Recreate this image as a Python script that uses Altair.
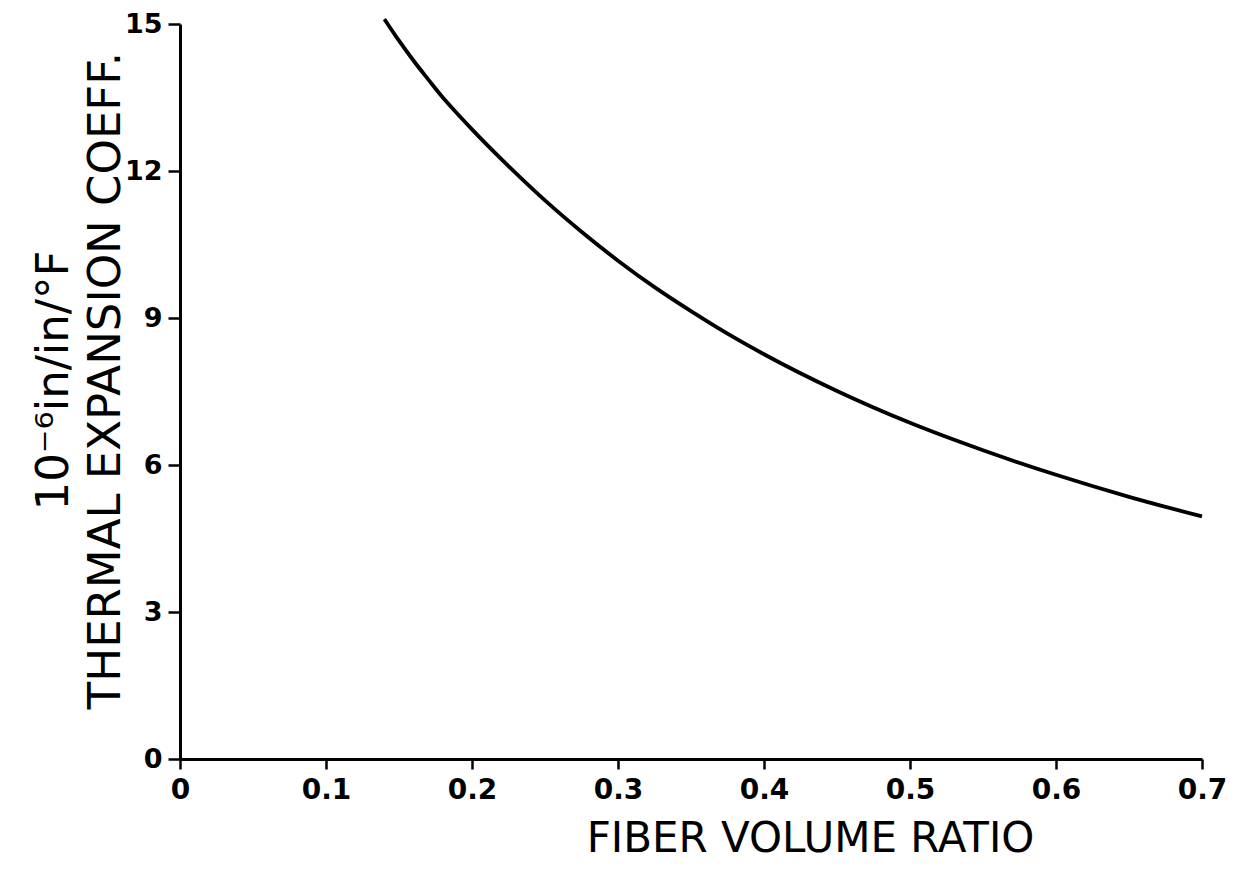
import altair as alt
import pandas as pd

# Fiber volume ratio vs thermal expansion coefficient (10^-6 in/in/°F)
fiber_ratio = [0.14, 0.15, 0.16, 0.17, 0.18, 0.19, 0.20, 0.225, 0.25, 0.275, 0.30,
               0.325, 0.35, 0.375, 0.40, 0.45, 0.50, 0.55, 0.60, 0.65, 0.70]
thermal_coeff = [15.1, 14.66, 14.25, 13.87, 13.5, 13.17, 12.85, 12.1, 11.4, 10.76, 10.17,
                 9.63, 9.14, 8.68, 8.26, 7.51, 6.86, 6.30, 5.80, 5.35, 4.95]

x_ticks = [0, 0.1, 0.2, 0.3, 0.4, 0.5, 0.6, 0.7]
y_ticks = [0, 3, 6, 9, 12, 15]

x_title = "FIBER VOLUME RATIO"
y_title = ["10\u207b\u2076in/in/\u00b0F", "THERMAL EXPANSION COEFF."]

df = pd.DataFrame({"ratio": fiber_ratio, "coeff": thermal_coeff})

FONT = "DejaVu Sans"

chart = alt.Chart(df).mark_line(color="black", strokeWidth=3.8, interpolate="monotone").encode(
    x=alt.X("ratio:Q",
            scale=alt.Scale(domain=[0, 0.7], nice=False, zero=False),
            axis=alt.Axis(values=x_ticks, format="~g", title=x_title, grid=False,
                          domainColor="black", domainWidth=3,
                          tickColor="black", tickWidth=2.5, tickSize=10,
                          labelFont=FONT, labelFontSize=28, labelFontWeight="bold",
                          labelColor="black", labelPadding=7, labelFlush=False,
                          titleFont=FONT, titleFontSize=42, titleFontWeight="normal",
                          titleColor="black", titleX=630, titleY=92,
                          titleAlign="center", titleBaseline="alphabetic")),
    y=alt.Y("coeff:Q",
            scale=alt.Scale(domain=[0, 15], nice=False, zero=False),
            axis=alt.Axis(values=y_ticks, format="~g", title=y_title, grid=False,
                          domainColor="black", domainWidth=3,
                          tickColor="black", tickWidth=2.5, tickSize=12,
                          labelFont=FONT, labelFontSize=27, labelFontWeight="bold",
                          labelColor="black", labelPadding=6, labelFlush=False,
                          titleFont=FONT, titleFontSize=45, titleFontWeight="normal",
                          titleColor="black", titleAngle=270,
                          titleX=-113, titleY=356, titleLineHeight=52,
                          titleAlign="center", titleBaseline="alphabetic")),
).properties(
    width=1022,
    height=735,
    autosize=alt.AutoSizeParams(type="none"),
    padding={"left": 172, "top": 16, "right": 25, "bottom": 109},
    background="white",
).configure_view(stroke=None)

chart.save("out.html", embed_options={"renderer": "svg", "actions": False})
